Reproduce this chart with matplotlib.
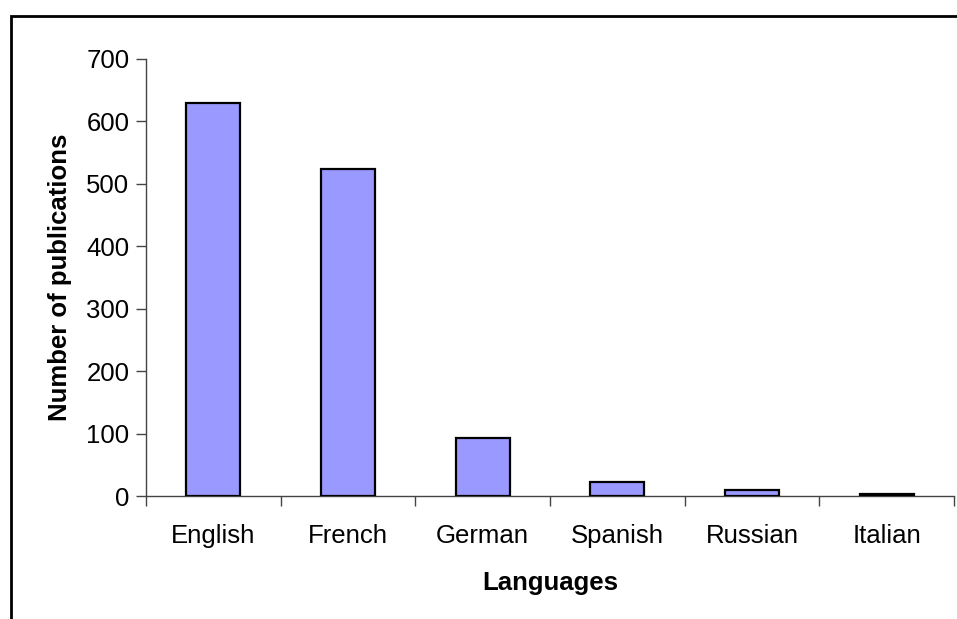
import matplotlib
matplotlib.use("Agg")
import matplotlib.pyplot as plt
from matplotlib.patches import Rectangle

categories = ["English", "French", "German", "Spanish", "Russian", "Italian"]
values = [630, 524, 93, 22, 10, 3]
yticks = [0, 100, 200, 300, 400, 500, 600, 700]

plt.rcParams['font.family'] = ['Liberation Sans', 'DejaVu Sans']

W, H = 957, 619
fs = 18.5
fig = plt.figure(figsize=(W/100, H/100), dpi=100)
# outer border
fig.patches.append(Rectangle((11/W, -0.01), 1.1, 1 - 16/H + 0.01, transform=fig.transFigure,
                             fill=False, edgecolor='black', linewidth=2))

ax = fig.add_axes([146/W, 1 - 496/H, (954-146)/W, (496-59)/H])
x = list(range(len(categories)))
ax.bar(x, values, width=0.40, color='#9999FF', edgecolor='black', linewidth=1.6, zorder=3)
ax.set_xlim(-0.5, len(categories) - 0.5)
ax.set_ylim(0, 700)
ax.set_yticks(yticks)
ax.set_yticklabels([str(t) for t in yticks], fontsize=fs)
ax.set_xticks(x)
ax.set_xticklabels(categories, fontsize=fs)
ax.set_xticks([i - 0.5 for i in range(len(categories) + 1)], minor=True)
ax.tick_params(axis='x', which='major', length=0, pad=20)
ax.tick_params(axis='x', which='minor', length=7, width=1, color='#444444', direction='out')
ax.tick_params(axis='y', length=7, width=1, color='#444444', direction='out', pad=5)
for s in ['top', 'right']:
    ax.spines[s].set_visible(False)
for s in ['left', 'bottom']:
    ax.spines[s].set_color('#444444')
    ax.spines[s].set_linewidth(1)
ax.set_ylabel("Number of publications", fontsize=fs, fontweight='bold', labelpad=10)
ax.set_xlabel("Languages", fontsize=fs, fontweight='bold', labelpad=17)
fig.savefig("out.png", dpi=100)
